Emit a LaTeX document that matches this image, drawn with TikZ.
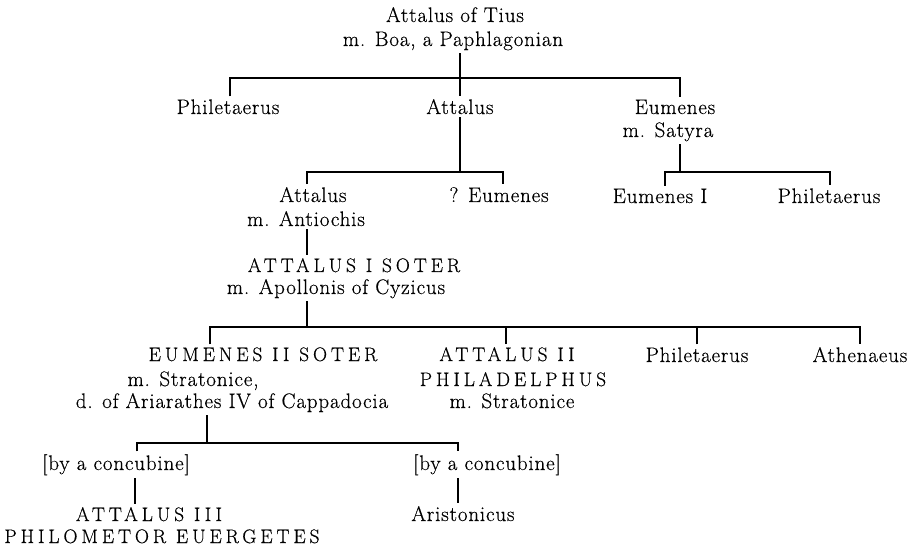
\documentclass[tikz,border=0pt]{standalone}
\usepackage{fontspec}
\setmainfont{Latin Modern Roman}[LetterSpace=4,FakeBold=0.4]
\newfontfamily\capsfont{Latin Modern Roman}[LetterSpace=20,FakeBold=0.4]
\begin{document}
\begin{tikzpicture}[x=1pt,y=-1pt,
  every node/.style={inner sep=0pt, outer sep=3pt},
  lc/.style={font=\fontsize{21}{23}\selectfont, anchor=base},
  uc/.style={font=\capsfont\fontsize{19.5}{22}\selectfont, anchor=base},
  link/.style={line width=1.1pt}]
\useasboundingbox (0,0) rectangle (913,553);

% generation 1
\node[lc] (tius) at (455,22) {Attalus of Tius};
\node[lc] (boa) at (453,46) {m. Boa, a Paphlagonian};
\node[lc] (phil1) at (228,114) {Philetaerus};
\node[lc] (att2) at (460,114) {Attalus};
\node[lc] (eum1) at (675,114) {Eumenes};
\node[lc] (satyra) at (668,137) {m. Satyra};
\coordinate (j1) at (460,78);
\draw[link] (boa.south -| j1) -- (j1);
\draw[link] ([xshift=2pt]phil1.north) |- (j1) -| ([xshift=5pt]eum1.north);
\draw[link] (j1) -- (att2.north);

% children of Attalus
\node[lc] (att3) at (313,202) {Attalus};
\node[lc] (antiochis) at (306,226) {m. Antiochis};
\node[lc] (eum2) at (499,202) {? Eumenes};
\coordinate (j2) at (460,172);
\draw[link] (att2.south) -- (j2);
\draw[link] ([xshift=-6pt]att3.north) |- (j2) -| ([xshift=4pt]eum2.north);

% children of Eumenes
\node[lc] (eumI) at (660,203) {Eumenes I};
\node[lc] (phil2) at (829,203) {Philetaerus};
\coordinate (j3) at (680,172);
\draw[link] (satyra.south -| j3) -- (j3);
\draw[link] ([xshift=5pt]eumI.north) |- (j3) -| ([xshift=1pt]phil2.north);

% Attalus I Soter
\node[uc] (soter1) at (354,272) {ATTALUS I SOTER};
\node[lc] (apollonis) at (336,294) {m. Apollonis of Cyzicus};
\draw[link] ([xshift=1pt]antiochis.south) -- ([xshift=1pt]antiochis.south |- soter1.north);

% children of Attalus I
\coordinate (j5) at (307,327);
\draw[link] (apollonis.south -| j5) -- (j5);
\node[uc] (eum3) at (263,361) {EUMENES II SOTER};
\node[lc] (strat1) at (193,386) {m. Stratonice,};
\node[lc] (ariar) at (232,408) {d. of Ariarathes IV of Cappadocia};
\node[uc] (att4) at (507,361) {ATTALUS II};
\node[uc] (philad) at (513,386) {PHILADELPHUS};
\node[lc] (strat2) at (512,408) {m. Stratonice};
\node[lc] (phil3) at (697,362) {Philetaerus};
\node[lc] (athen) at (860,362) {Athenaeus};
\draw[link] ([xshift=-53pt]eum3.north) |- (j5) -| (athen.north);
\draw[link] ([xshift=-1pt]att4.north) -- ([xshift=-1pt]att4.north |- j5);
\draw[link] (phil3.north) -- (phil3.north |- j5);

% children of Eumenes II
\coordinate (j6) at (207,443);
\draw[link] (ariar.south -| j6) -- (j6);
\node[lc] (conc1) at (116,470) {[by a concubine]};
\node[lc] (conc2) at (487,470) {[by a concubine]};
\draw[link] ([xshift=21pt]conc1.north) |- (j6) -| ([xshift=-29pt]conc2.north);
\node[uc] (att5) at (149,521) {ATTALUS III};
\node[uc] (philom) at (162,543) {PHILOMETOR EUERGETES};
\node[lc] (aristo) at (463,521) {Aristonicus};
\draw[link] ([xshift=19pt]conc1.south) -- ([xshift=19pt]conc1.south |- att5.north);
\draw[link] ([xshift=-29pt]conc2.south) -- ([xshift=-29pt]conc2.south |- aristo.north);
\end{tikzpicture}
\end{document}
